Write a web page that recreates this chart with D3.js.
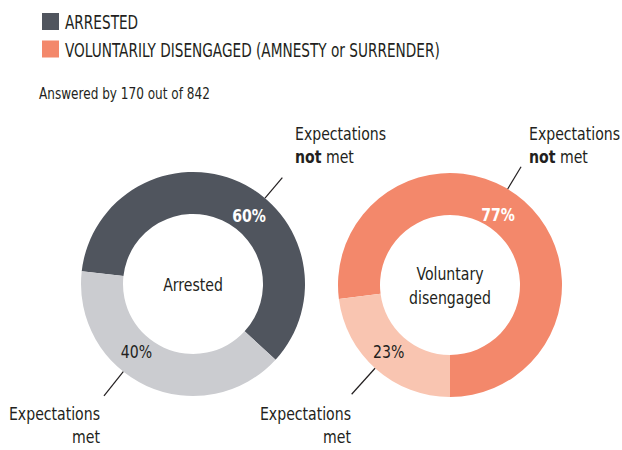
<!DOCTYPE html>
<html>
<head>
<meta charset="utf-8">
<script src="https://cdn.jsdelivr.net/npm/d3@7"></script>
<style>
  html, body { margin: 0; padding: 0; background: #fff; }
  svg { display: block; }
  text { font-family: "DejaVu Sans Condensed", "DejaVu Sans", sans-serif; fill: #231f20; }
</style>
</head>
<body>
<svg id="chart" width="622" height="450"></svg>
<script>
// Legend entries
const legendLabels = ["ARRESTED", "VOLUNTARILY DISENGAGED (AMNESTY or SURRENDER)"];
const legendColors = ["#50555e", "#f3886b"];
const subtitle = "Answered by 170 out of 842";

// One donut per group: share of respondents whose expectations were not met / met
const groups = ["Arrested", "Voluntary disengaged"];
const notMetValues = [60, 77];
const metValues = [40, 23];
const notMetColors = ["#50555e", "#f3886b"];
const metColors = ["#cbccd0", "#f9c5b1"];
// rotation of each donut's first slice (degrees, clockwise from 12 o'clock)
const startAngles = [-83.5, -97.2];

const svg = d3.select("#chart");
const rad = Math.PI / 180;

// Draws a horizontally condensed text at (x, y); returns the <text> node
function label(parent, x, y, size, squeeze, anchor) {
  return parent.append("g")
    .attr("transform", `translate(${x},${y}) scale(${squeeze},1)`)
    .append("text")
    .attr("font-size", size)
    .attr("text-anchor", anchor || "start");
}

// Legend
legendLabels.forEach((txt, i) => {
  const y = 13 + i * 27.5;
  svg.append("rect").attr("x", 42).attr("y", y).attr("width", 17).attr("height", 17).attr("fill", legendColors[i]);
  label(svg, 65, y + 16, 19, 0.8).text(txt);
});
label(svg, 39, 99, 16, 0.84).text(subtitle);

const centers = [[193, 284], [450, 285]];
const outerR = 112, innerR = 70;
const arc = d3.arc().innerRadius(innerR).outerRadius(outerR);
const polar = (c, angDeg, r) => [c[0] + r * Math.sin(angDeg * rad), c[1] - r * Math.cos(angDeg * rad)];

groups.forEach((name, i) => {
  const data = [
    { key: "notmet", value: notMetValues[i], color: notMetColors[i] },
    { key: "met", value: metValues[i], color: metColors[i] }
  ];
  const a0 = startAngles[i] * rad;
  const pie = d3.pie().value(d => d.value).sort(null)
    .startAngle(a0).endAngle(a0 + 2 * Math.PI);
  const g = svg.append("g").attr("transform", `translate(${centers[i][0]},${centers[i][1]})`);
  g.selectAll("path").data(pie(data)).join("path").attr("d", arc).attr("fill", d => d.data.color);

  // center label
  const words = name === "Arrested" ? ["Arrested"] : ["Voluntary", "disengaged"];
  words.forEach((w, j) => {
    label(g, 0, 7 + (j - (words.length - 1) / 2) * 24, 18, 0.87, "middle").text(w);
  });
});

// Percentage labels: angle (deg) and radius inside each ring
const pctLabels = [
  { g: 0, v: notMetValues[0], ang: 39, r: 89, color: "#fff", weight: "bold" },
  { g: 0, v: metValues[0], ang: 220, r: 88, color: "#231f20", weight: "normal" },
  { g: 1, v: notMetValues[1], ang: 34, r: 86, color: "#fff", weight: "bold" },
  { g: 1, v: metValues[1], ang: 223, r: 90, color: "#231f20", weight: "normal" }
];
pctLabels.forEach(p => {
  const [x, y] = polar(centers[p.g], p.ang, p.r);
  label(svg, x, y + 7, 18, 0.87, "middle")
    .attr("font-weight", p.weight).style("fill", p.color)
    .text(p.v + "%");
});

// Callouts with leader lines running out from the ring
const callouts = [
  { g: 0, x: 295, y: 140, anchor: "start", lines: [["Expectations"], ["not", " met"]], ang: 40, r1: 139 },
  { g: 1, x: 529, y: 140, anchor: "start", lines: [["Expectations"], ["not", " met"]], ang: 31, r1: 138 },
  { g: 0, x: 100, y: 420, anchor: "end", lines: [["Expectations"], [null, "met"]], ang: 218.5, r1: 143 },
  { g: 1, x: 351, y: 420, anchor: "end", lines: [["Expectations"], [null, "met"]], ang: 222, r1: 147 }
];
callouts.forEach(c => {
  c.lines.forEach((ln, j) => {
    const t = label(svg, c.x, c.y + j * 23, 18, 0.87, c.anchor);
    if (ln.length === 1) { t.text(ln[0]); return; }
    if (ln[0]) t.append("tspan").attr("font-weight", "bold").text(ln[0]);
    t.append("tspan").text(ln[1]);
  });
  const pts = [polar(centers[c.g], c.ang, outerR), polar(centers[c.g], c.ang, c.r1)];
  svg.append("path").attr("d", d3.line()(pts)).attr("stroke", "#231f20").attr("stroke-width", 1.2).attr("fill", "none");
});
</script>
</body>
</html>
